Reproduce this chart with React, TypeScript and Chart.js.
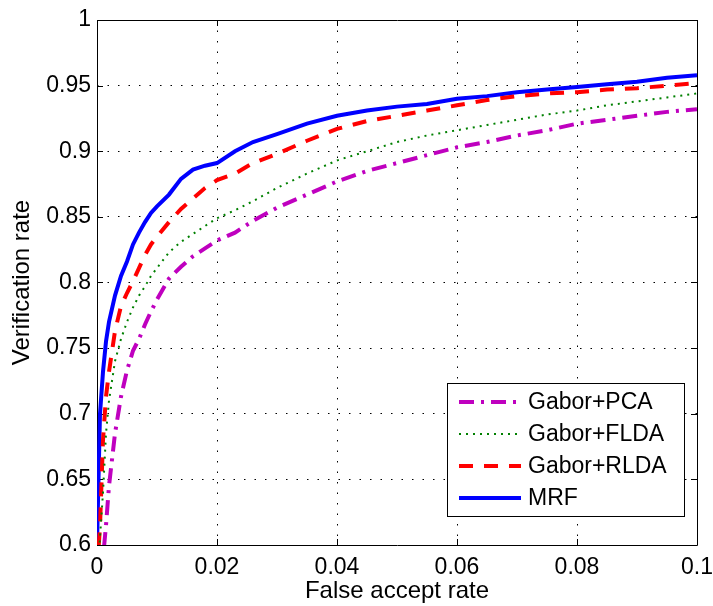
import React, { useEffect, useRef } from "react";
import { Chart, registerables } from "chart.js";

Chart.register(...registerables);

// False accept rate sample positions
const FAR = [
  0, 0.0005, 0.001, 0.0015, 0.002, 0.003, 0.004, 0.005, 0.006, 0.007, 0.008, 0.009,
  0.01, 0.012, 0.014, 0.016, 0.018, 0.02, 0.023, 0.026, 0.03, 0.035, 0.04, 0.045,
  0.05, 0.055, 0.06, 0.065, 0.07, 0.075, 0.08, 0.085, 0.09, 0.095, 0.1,
];

const GABOR_PCA = [
  0.55, 0.57, 0.59, 0.615, 0.645, 0.685, 0.713, 0.733, 0.748, 0.757, 0.768, 0.778,
  0.787, 0.803, 0.812, 0.82, 0.826, 0.832, 0.838, 0.847, 0.857, 0.867, 0.877, 0.885,
  0.891, 0.897, 0.903, 0.907, 0.912, 0.916, 0.921, 0.924, 0.927, 0.93, 0.932,
];

const GABOR_FLDA = [
  0.57, 0.606, 0.64, 0.685, 0.71, 0.74, 0.757, 0.77, 0.781, 0.79, 0.797, 0.805,
  0.811, 0.823, 0.831, 0.837, 0.843, 0.849, 0.855, 0.862, 0.872, 0.883, 0.893, 0.9,
  0.907, 0.912, 0.916, 0.92, 0.924, 0.928, 0.931, 0.935, 0.938, 0.941, 0.944,
];

const GABOR_RLDA = [
  0.58, 0.614, 0.68, 0.713, 0.732, 0.763, 0.782, 0.792, 0.801, 0.811, 0.821, 0.829,
  0.835, 0.846, 0.856, 0.864, 0.872, 0.878, 0.883, 0.891, 0.898, 0.908, 0.917, 0.923,
  0.927, 0.931, 0.935, 0.939, 0.942, 0.944, 0.945, 0.947, 0.948, 0.95, 0.952,
];

const MRF = [
  0.6, 0.7, 0.732, 0.755, 0.77, 0.79, 0.805, 0.816, 0.829, 0.838, 0.846, 0.853,
  0.858, 0.867, 0.879, 0.886, 0.889, 0.891, 0.9, 0.907, 0.913, 0.921, 0.927, 0.931,
  0.934, 0.936, 0.94, 0.942, 0.945, 0.947, 0.949, 0.951, 0.953, 0.956, 0.958,
];

const SERIES_LABELS = ["Gabor+PCA", "Gabor+FLDA", "Gabor+RLDA", "MRF"];

const X_TICKS = [0, 0.02, 0.04, 0.06, 0.08, 0.1];
const X_TICK_LABELS = ["0", "0.02", "0.04", "0.06", "0.08", "0.1"];
const Y_TICKS = [0.6, 0.65, 0.7, 0.75, 0.8, 0.85, 0.9, 0.95, 1];
const Y_TICK_LABELS = ["0.6", "0.65", "0.7", "0.75", "0.8", "0.85", "0.9", "0.95", "1"];

const X_TITLE = "False accept rate";
const Y_TITLE = "Verification rate";

const FONT = "'Liberation Sans', Arial, Helvetica, sans-serif";

const toPoints = (ys: number[]) => FAR.map((x, i) => ({ x, y: ys[i] }));

const labelFor = (ticks: number[], labels: string[], v: number) => {
  const i = ticks.findIndex((t) => Math.abs(t - v) < 1e-9);
  return i >= 0 ? labels[i] : "";
};

const framePlugin = {
  id: "matlabFrame",
  beforeDatasetsDraw(chart: any) {
    const { ctx, chartArea } = chart;
    const { left, right, top, bottom } = chartArea;
    const xs = chart.scales.x;
    const ys = chart.scales.y;
    ctx.save();
    ctx.strokeStyle = "#000";
    ctx.lineWidth = 1;
    ctx.setLineDash([]);
    ctx.beginPath();
    ctx.rect(Math.round(left) + 0.5, Math.round(top) + 0.5, Math.round(right - left), Math.round(bottom - top));
    ctx.stroke();
    const tl = 6;
    ctx.beginPath();
    X_TICKS.forEach((v) => {
      const px = Math.round(xs.getPixelForValue(v)) + 0.5;
      ctx.moveTo(px, bottom);
      ctx.lineTo(px, bottom - tl);
      ctx.moveTo(px, top);
      ctx.lineTo(px, top + tl);
    });
    Y_TICKS.forEach((v) => {
      const py = Math.round(ys.getPixelForValue(v)) + 0.5;
      ctx.moveTo(left, py);
      ctx.lineTo(left + tl, py);
      ctx.moveTo(right, py);
      ctx.lineTo(right - tl, py);
    });
    ctx.stroke();
    ctx.restore();
  },
  afterDatasetsDraw(chart: any) {
    const { ctx } = chart;
    const bx = 447, by = 383, bw = 237, bh = 133;
    ctx.save();
    ctx.fillStyle = "#fff";
    ctx.fillRect(bx, by, bw, bh);
    ctx.strokeStyle = "#000";
    ctx.lineWidth = 1;
    ctx.setLineDash([]);
    ctx.strokeRect(bx + 0.5, by + 0.5, bw, bh);
    const rows = [402, 434, 466, 498];
    chart.data.datasets.forEach((ds: any, i: number) => {
      const y = rows[i];
      ctx.beginPath();
      ctx.strokeStyle = ds.borderColor;
      ctx.lineWidth = ds.borderWidth;
      ctx.setLineDash(ds.borderDash || []);
      ctx.moveTo(459, y);
      ctx.lineTo(521, y);
      ctx.stroke();
      ctx.setLineDash([]);
      ctx.fillStyle = "#000";
      ctx.font = `23px ${FONT}`;
      ctx.textBaseline = "middle";
      ctx.textAlign = "left";
      ctx.fillText(ds.label, 528, y + 1);
    });
    ctx.restore();
  },
};

export default function App() {
  const canvasRef = useRef<HTMLCanvasElement | null>(null);

  useEffect(() => {
    const canvas = canvasRef.current;
    if (!canvas) return;
    const chart = new Chart(canvas, {
      type: "line",
      data: {
        datasets: [
          {
            label: SERIES_LABELS[0],
            data: toPoints(GABOR_PCA),
            borderColor: "#bf00bf",
            borderWidth: 4,
            borderDash: [15, 7, 3, 7],
            pointRadius: 0,
            tension: 0,
            fill: false,
          },
          {
            label: SERIES_LABELS[1],
            data: toPoints(GABOR_FLDA),
            borderColor: "#008000",
            borderWidth: 2,
            borderDash: [2, 5],
            pointRadius: 0,
            tension: 0,
            fill: false,
          },
          {
            label: SERIES_LABELS[2],
            data: toPoints(GABOR_RLDA),
            borderColor: "#ff0000",
            borderWidth: 4,
            borderDash: [14, 11],
            pointRadius: 0,
            tension: 0,
            fill: false,
          },
          {
            label: SERIES_LABELS[3],
            data: toPoints(MRF),
            borderColor: "#0000ff",
            borderWidth: 4,
            pointRadius: 0,
            tension: 0,
            fill: false,
          },
        ],
      },
      options: {
        responsive: false,
        animation: false,
        layout: { padding: { left: 0, right: 16, top: 20, bottom: 0 } },
        plugins: {
          legend: { display: false },
          tooltip: { enabled: false },
        },
        scales: {
          x: {
            type: "linear",
            min: 0,
            max: 0.1,
            afterBuildTicks: (scale: any) => {
              scale.ticks = X_TICKS.map((v) => ({ value: v }));
            },
            afterFit: (scale: any) => {
              scale.height = 61;
              scale.paddingLeft = 0;
              scale.paddingRight = 0;
            },
            ticks: {
              color: "#000",
              font: { family: FONT, size: 23 },
              padding: 9,
              maxRotation: 0,
              autoSkip: false,
              callback: (v: any) => labelFor(X_TICKS, X_TICK_LABELS, Number(v)),
            },
            grid: {
              color: "#000",
              lineWidth: 1,
              drawTicks: false,
            },
            border: { display: false, dash: [1.5, 9] },
            title: {
              display: true,
              text: X_TITLE,
              color: "#000",
              font: { family: FONT, size: 24 },
              padding: { top: 0, bottom: 0 },
            },
          },
          y: {
            type: "linear",
            min: 0.6,
            max: 1,
            afterBuildTicks: (scale: any) => {
              scale.ticks = Y_TICKS.map((v) => ({ value: v }));
            },
            afterFit: (scale: any) => {
              scale.width = 97;
              scale.paddingTop = 0;
              scale.paddingBottom = 0;
            },
            ticks: {
              color: "#000",
              font: { family: FONT, size: 23 },
              padding: 6,
              autoSkip: false,
              callback: (v: any) => labelFor(Y_TICKS, Y_TICK_LABELS, Number(v)),
            },
            grid: {
              color: "#000",
              lineWidth: 1,
              drawTicks: false,
            },
            border: { display: false, dash: [1.5, 9] },
            title: {
              display: true,
              text: Y_TITLE,
              color: "#000",
              font: { family: FONT, size: 24 },
              padding: { top: 8, bottom: 0 },
            },
          },
        },
      },
      plugins: [framePlugin],
    });
    return () => chart.destroy();
  }, []);

  return (
    <canvas
      ref={canvasRef}
      width={713}
      height={606}
      style={{ position: "absolute", left: 0, top: 0, display: "block", background: "#fff" }}
    />
  );
}
